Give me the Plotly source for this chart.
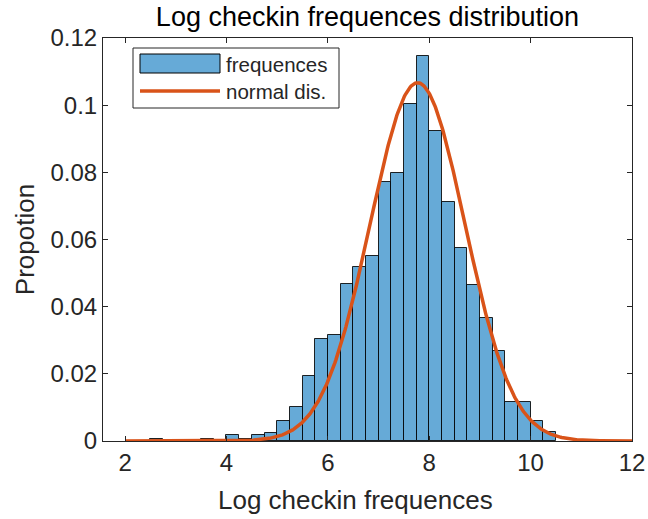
import numpy as np
import plotly.graph_objects as go

# Histogram of log check-in frequencies (bin left edges, proportion per bin)
bin_width = 0.25
bin_left = [2.5, 2.75, 3.0, 3.25, 3.5, 3.75, 4.0, 4.25, 4.5, 4.75,
            5.0, 5.25, 5.5, 5.75, 6.0, 6.25, 6.5, 6.75, 7.0, 7.25,
            7.5, 7.75, 8.0, 8.25, 8.5, 8.75, 9.0, 9.25, 9.5, 9.75,
            10.0, 10.25]
proportion = [0.0007, 0.0, 0.0, 0.0, 0.0007, 0.0, 0.0017, 0.0007, 0.0017, 0.0025,
              0.0060, 0.0101, 0.0194, 0.0304, 0.0317, 0.0468, 0.0518, 0.0552, 0.0770, 0.0797,
              0.1004, 0.1146, 0.0924, 0.0712, 0.0575, 0.0465, 0.0366, 0.0269, 0.0117, 0.0117,
              0.0060, 0.0026]

# Fitted normal distribution (scaled to bin proportions)
fit_mu = 7.77
fit_sigma = 0.935
curve_from, curve_to = 2.0, 12.0

x_ticks = [2, 4, 6, 8, 10, 12]
y_ticks = [0, 0.02, 0.04, 0.06, 0.08, 0.1, 0.12]

INK = "#262626"
BAR_FILL = "#66AAD7"
LINE_COL = "#D95319"
FONT = "Liberation Sans, Arial, Helvetica, sans-serif"

centers = [b + bin_width / 2 for b in bin_left]
xs = np.linspace(curve_from, curve_to, 600)
ys = bin_width * np.exp(-0.5 * ((xs - fit_mu) / fit_sigma) ** 2) / (fit_sigma * np.sqrt(2 * np.pi))

fig = go.Figure()
fig.add_trace(go.Bar(
    x=centers, y=proportion, width=bin_width,
    marker=dict(color=BAR_FILL, line=dict(color="rgba(0,0,0,0.85)", width=1)),
    name="frequences", showlegend=False,
))
fig.add_trace(go.Scatter(
    x=xs, y=ys, mode="lines",
    line=dict(color=LINE_COL, width=3.5),
    name="normal dis.", showlegend=False,
))

W, H = 648, 519
L, R, T, B = 103, 16, 38, 78
plot_w, plot_h = W - L - R, H - T - B


def px(xp):
    return (xp - L) / plot_w


def py(yp):
    return (H - B - yp) / plot_h


# Legend box drawn in paper coordinates
shapes = [
    dict(type="rect", xref="paper", yref="paper", x0=px(133), x1=px(339), y0=py(108), y1=py(48),
         line=dict(color=INK, width=1), fillcolor="white", layer="above"),
    dict(type="rect", xref="paper", yref="paper", x0=px(140), x1=px(220), y0=py(73), y1=py(54),
         line=dict(color="black", width=1), fillcolor=BAR_FILL, layer="above"),
    dict(type="line", xref="paper", yref="paper", x0=px(140), x1=px(220), y0=py(91), y1=py(91),
         line=dict(color=LINE_COL, width=3.5), layer="above"),
]
annotations = [
    dict(text="frequences", xref="paper", yref="paper", x=px(224), y=py(64),
         xanchor="left", yanchor="middle", showarrow=False,
         font=dict(family=FONT, size=20.5, color=INK)),
    dict(text="normal dis.", xref="paper", yref="paper", x=px(224), y=py(91),
         xanchor="left", yanchor="middle", showarrow=False,
         font=dict(family=FONT, size=20.5, color=INK)),
    # x-axis label
    dict(text="Log checkin frequences", xref="paper", yref="paper", x=px(355), y=py(500),
         xanchor="center", yanchor="middle", showarrow=False,
         font=dict(family=FONT, size=26, color=INK)),
]

axis_common = dict(
    showline=True, linecolor=INK, linewidth=1, mirror="ticks",
    ticks="inside", ticklen=5, tickwidth=1, tickcolor=INK,
    showgrid=False, zeroline=False, automargin=False,
    tickfont=dict(family=FONT, size=24, color=INK),
)

fig.update_layout(
    width=W, height=H,
    margin=dict(l=L, r=R, t=T, b=B),
    paper_bgcolor="white", plot_bgcolor="white",
    bargap=0,
    title=dict(text="Log checkin frequences distribution", x=0.5, xref="paper",
               y=1 - 17 / H, yref="container", xanchor="center", yanchor="middle",
               font=dict(family=FONT, size=27, color="black")),
    xaxis=dict(range=[1.564, 12], tickvals=x_ticks, **axis_common),
    yaxis=dict(range=[0, 0.12], tickvals=y_ticks, ticktext=[f"{v:g}" for v in y_ticks],
               title=dict(text="Propotion", standoff=8,
                          font=dict(family=FONT, size=26, color=INK)),
               **axis_common),
    shapes=shapes,
    annotations=annotations,
    showlegend=False,
)

fig.write_html("out.html")
